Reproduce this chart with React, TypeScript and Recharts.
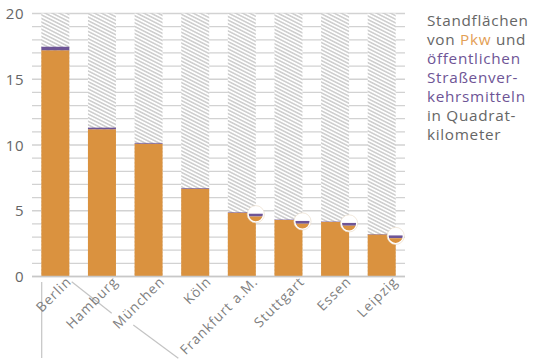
import React from "react";
import { BarChart, Bar, XAxis, YAxis, CartesianGrid, LabelList } from "recharts";

const cities = ["Berlin", "Hamburg", "München", "Köln", "Frankfurt a.M.", "Stuttgart", "Essen", "Leipzig"];
const pkw = [17.2, 11.2, 10.1, 6.68, 4.85, 4.3, 4.15, 3.2];
const oeffentlich = [0.28, 0.12, 0.06, 0.05, 0.04, 0.03, 0.03, 0.03];
const magnified = [false, false, false, false, true, true, true, true];
const yTicks = Array.from({ length: 21 }, (_, i) => i);
const yLabels = [0, 5, 10, 15, 20];

const data = cities.map((c, i) => ({ city: c, pkw: pkw[i], oeff: oeffentlich[i], mag: magnified[i] }));

const ORANGE = "#DA923F";
const PURPLE = "#6E5596";
const FONT = "'Open Sans', 'Noto Sans', sans-serif";

const YTick = (props: any) => {
  const { x, y, payload } = props;
  if (!yLabels.includes(payload.value)) return null;
  return (
    <text x={x} y={y} dy={5.5} textAnchor="end" fontSize={15} fill="#666" fontFamily={FONT} letterSpacing={0.5}>
      {payload.value}
    </text>
  );
};

const XTick = (props: any) => {
  const { x, y, payload, index } = props;
  const tx = x + 17;
  const ty = y + 6;
  return (
    <g>
      {index === 0 && (
        <g stroke="#c4c4c4" strokeWidth={1.2}>
          <line x1={x - 13.6} y1={y + 5.5} x2={x - 13.6} y2={y + 81.5} />
          <line x1={x + 16.4} y1={y + 5.2} x2={x + 56.4} y2={y + 36.8} />
          <line x1={x + 78} y1={y + 48.5} x2={x + 123} y2={y + 81.8} />
        </g>
      )}
      <text
        x={tx}
        y={ty}
        textAnchor="end"
        fontSize={13.6}
        letterSpacing={1}
        fill="#808080"
        fontFamily={FONT}
        transform={`rotate(-45 ${tx} ${ty})`}
      >
        {payload.value}
      </text>
    </g>
  );
};

const Magnifier = (props: any) => {
  const { x, y, width, height, index } = props;
  if (!magnified[index]) return null;
  const cx = x + width;
  const top = y + height;
  const cy = top + 1.5;
  const r = 7.8;
  const id = `mag-clip-${index}`;
  return (
    <g>
      <defs>
        <clipPath id={id}>
          <circle cx={cx} cy={cy} r={r} />
        </clipPath>
      </defs>
      <circle cx={cx} cy={cy} r={r} fill="#fff" />
      <g clipPath={`url(#${id})`}>
        <rect x={cx - r} y={cy - 0.5} width={2 * r} height={2.8} fill={PURPLE} />
        <rect x={cx - r} y={cy + 2.3} width={2 * r} height={r} fill={ORANGE} />
      </g>
      <circle cx={cx} cy={cy} r={r} fill="none" stroke="#fff" strokeWidth={1.6} />
      <circle cx={cx} cy={cy} r={r + 0.8} fill="none" stroke="#e8d9c4" strokeWidth={0.6} />
    </g>
  );
};

export default function App() {
  return (
    <div style={{ position: "absolute", left: 0, top: 0, width: 540, height: 360, background: "#fff" }}>
      <BarChart
        width={540}
        height={360}
        data={data}
        margin={{ top: 13.5, right: 135, left: 0, bottom: 0 }}
        barCategoryGap="20%"
      >
        <defs>
          <pattern id="hatch" patternUnits="userSpaceOnUse" width={10} height={3.2} patternTransform="rotate(27)">
            <rect width={10} height={3.2} fill="#fff" />
            <line x1={0} y1={0.8} x2={10} y2={0.8} stroke="#b9b9b9" strokeWidth={1.1} />
          </pattern>
        </defs>
        <CartesianGrid horizontal vertical={false} stroke="#d2d2d2" strokeWidth={1.3} />
        <YAxis
          width={32}
          domain={[0, 20]}
          ticks={yTicks}
          interval={0}
          axisLine={false}
          tickLine={false}
          tick={<YTick />}
        />
        <XAxis
          dataKey="city"
          height={83.5}
          interval={0}
          axisLine={{ stroke: "#c8c8c8", strokeWidth: 1.5 }}
          tickLine={false}
          tickSize={0}
          tickMargin={0}
          tick={<XTick />}
        />
        <Bar dataKey="pkw" stackId="a" fill={ORANGE} background={{ fill: "url(#hatch)" }} isAnimationActive={false} />
        <Bar dataKey="oeff" stackId="a" fill={PURPLE} isAnimationActive={false}>
          <LabelList dataKey="oeff" content={<Magnifier />} />
        </Bar>
      </BarChart>
      <div
        style={{
          position: "absolute",
          left: 427,
          top: 11,
          fontFamily: FONT,
          fontSize: 15.3,
          letterSpacing: "0.7px",
          lineHeight: "19px",
          color: "#666",
          whiteSpace: "nowrap",
        }}
      >
        Standflächen
        <br />
        von <span style={{ color: "#E3A055" }}>Pkw</span> und
        <br />
        <span style={{ color: PURPLE }}>
          öffentlichen
          <br />
          Straßenver-
          <br />
          kehrsmitteln
        </span>
        <br />
        in Quadrat-
        <br />
        kilometer
      </div>
    </div>
  );
}
